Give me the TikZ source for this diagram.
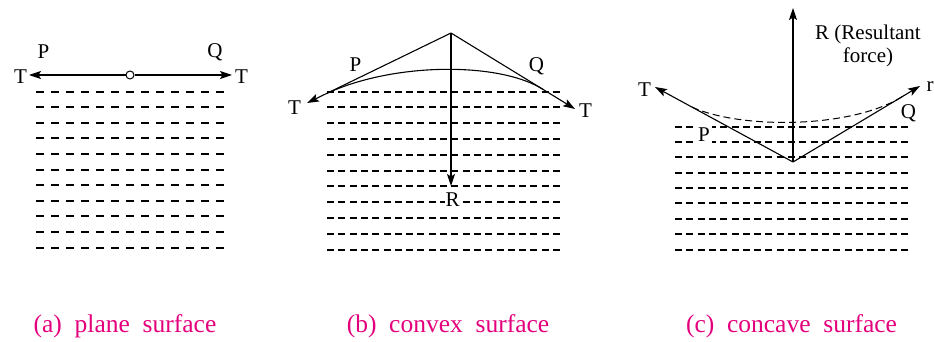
\documentclass[tikz,border=0pt]{standalone}
\usepackage{fontspec}
\setmainfont{Liberation Serif}
\newfontfamily\figfont{Liberation Serif}
\usetikzlibrary{arrows.meta}
\definecolor{capmag}{RGB}{228,0,124}
\begin{document}
\begin{tikzpicture}[x=1pt, y=-1pt, font=\figfont\fontsize{21}{23}\selectfont,
  force/.style={line width=1.1pt, -{Stealth[length=12pt, width=8pt, inset=2.5pt]}},
  film/.style={line width=1.1pt},
  water/.style={line width=2pt, dash pattern=on 7pt off 4.3pt},
  lbl/.style={inner sep=0pt},
  caption/.style={text=capmag, font=\figfont\fontsize{25.5}{28}\selectfont, anchor=base}]
  \useasboundingbox (0,0) rectangle (934,342);
  \foreach \k in {0,...,10} {
    \pgfmathsetmacro\yy{int(92+15.6*\k)}
    \draw[water, dash pattern=on 8.3pt off 6.7pt] (36,\yy) -- (225,\yy);
  }
  \node[draw, circle, fill=white, inner sep=0pt, minimum size=8pt, line width=1pt] (pin) at (130,75) {};
  \coordinate (ta1) at (29,75);
  \coordinate (ta2) at (232,75);
  \draw[force] (pin) -- (ta1);
  \draw[force] (pin) -- (ta2);
  \node[lbl] (pa) at (43.5,51.5) {P};
  \node[lbl] (qa) at (215,52) {Q};
  \node[lbl] (ta1l) at (20.5,76.5) {T};
  \node[lbl] (ta2l) at (241.5,76.5) {T};

  \foreach \k in {0,...,10} {
    \pgfmathsetmacro\yy{int(92+15.8*\k)}
    \draw[water] (327,\yy) -- (564,\yy);
  }
  \coordinate (apex) at (451,33);
  \coordinate (tb1) at (307,103);
  \coordinate (tb2) at (575,109);
  \coordinate (rb) at (451,186);
  \coordinate (pb) at (327,93.3);
  \coordinate (qb) at (543,89.4);
  \draw[force] (apex) -- (tb1);
  \draw[force] (apex) -- (tb2);
  \draw[force] (apex) -- (rb);
  \draw[film] (pb) .. controls (395,62) and (500,62) .. (qb);
  \node[lbl] (pbl) at (355.5,64.5) {P};
  \node[lbl] (qbl) at (536.5,66) {Q};
  \node[lbl] (tb1l) at (294.5,107.5) {T};
  \node[lbl] (tb2l) at (585.5,110.5) {T};
  \node[lbl, fill=white, inner sep=1pt] (rbl) at (452.5,200) {R};

  \foreach \k in {0,...,8} {
    \pgfmathsetmacro\yy{int(127+15.4*\k)}
    \draw[water] (675,\yy) -- (908,\yy);
  }
  \coordinate (vc) at (793,162);
  \coordinate (rc) at (793,8);
  \coordinate (tc1) at (655,87);
  \coordinate (tc2) at (920,86);
  \coordinate (pc) at (692,107.1);
  \coordinate (qc) at (902,96.8);
  \draw[force] (vc) -- (rc);
  \draw[force] (vc) -- (tc1);
  \draw[force] (vc) -- (tc2);
  \draw[film, line width=1pt, dash pattern=on 7pt off 4pt] (pc) .. controls (740,129) and (850,129) .. (qc);
  \node[lbl] (tcl) at (644.5,89.5) {T};
  \node[lbl] (rcl) at (930,87) {r};
  \node[lbl] (qcl) at (908.5,113) {Q};
  \node[lbl, fill=white, inner sep=2pt] (pcl) at (704,135) {P};
  \node[lbl, align=center] (rclbl) at (868,46) {R (Resultant\\force)};

  \node[caption] (capa) at (125,332) {(a)\enspace plane\enspace surface};
  \node[caption] (capb) at (448,332) {(b)\enspace convex\enspace surface};
  \node[caption] (capc) at (791.5,332) {(c)\enspace concave\enspace surface};
\end{tikzpicture}
\end{document}
